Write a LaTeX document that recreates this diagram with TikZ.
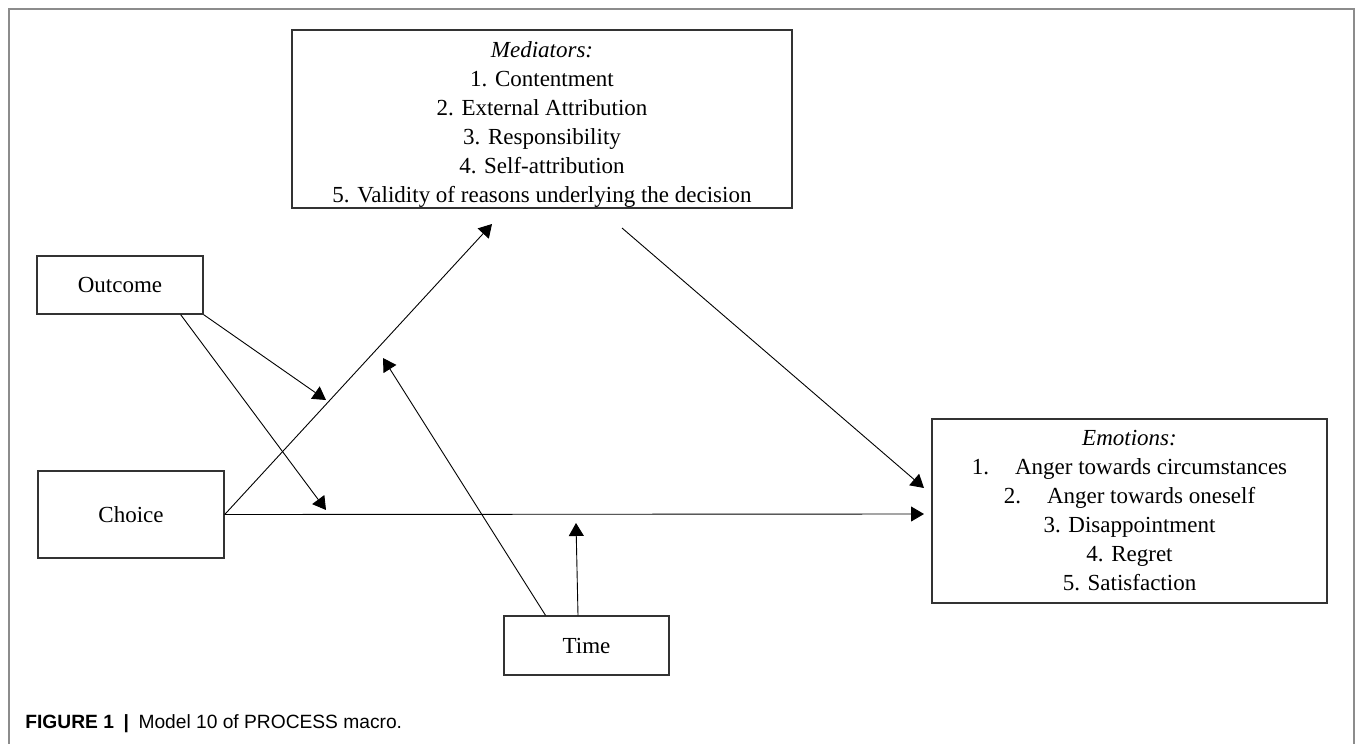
\documentclass[tikz,border=0pt]{standalone}
\usepackage{fontspec}
\setmainfont{Liberation Serif}
\newfontfamily\capfont{Liberation Sans}
\usetikzlibrary{arrows.meta}

\tikzset{
  box/.style={draw=black!80, line width=0.7pt, align=center, inner sep=0pt,
    font=\fontsize{11.5}{14.5}\selectfont},
  link/.style={->, line width=0.45pt}
}

\begin{document}
\begin{tikzpicture}[x=0.5pt,y=-0.5pt,>={Triangle[length=6.5pt,width=7.5pt]}]
                \useasboundingbox (0,0) rectangle (1355,744);
                \draw[black!45, line width=0.6pt] (9,744) -- (9,9) -- (1354,9) -- (1354,744);

                \node[box, minimum width=250pt, minimum height=89pt] (med) at (542,119)
                  {\rule{0pt}{13.5pt}\textit{Mediators:}\\1. Contentment\\2. External Attribution\\3. Responsibility\\4. Self-attribution\\5. Validity of reasons underlying the decision};
                \node[box, minimum width=83pt, minimum height=29pt] (outcome) at (120,285) {Outcome};
                \node[box, minimum width=93pt, minimum height=43.5pt] (choice) at (131,514.5) {Choice};
                \node[box, minimum width=82.5pt, minimum height=29.5pt] (time) at (586.5,645.5) {Time};
                \node[box, minimum width=197.5pt, minimum height=92pt] (emo) at (1129.5,511)
                  {\textit{Emotions:}\\1.\hspace{13pt}Anger towards circumstances\\2.\hspace{13pt}Anger towards oneself\\3. Disappointment\\4. Regret\\5. Satisfaction};

                % arrow tips
                \coordinate (medtip) at (492,224);
                \coordinate (emotip) at (924,514);
                \coordinate (emotip2) at (924,488);
                \coordinate (medfoot) at (622,228);
                \coordinate (modA) at (326,400);
                \coordinate (modB) at (326,510);
                \coordinate (modC) at (383,358);
                \coordinate (modD) at (576,523);

                \draw[link] (choice.east) -- (medtip);
                \draw[link] (choice.east) -- (emotip);
                \draw[link] (medfoot) -- (emotip2);

                \draw[link] (outcome.south east) -- (modA);
                \draw[link] ([xshift=-11.5pt]outcome.south east) -- (modB);

                \draw[link] ([xshift=-20.5pt]time.north) -- (modC);
                \draw[link] ([xshift=-4.25pt]time.north) -- (modD);

                \node[anchor=base west, font=\capfont\fontsize{9.6}{11}\selectfont, inner sep=0pt] (cap) at (25,728)
                  {\textbf{FIGURE 1}\enspace\textbf{|}\enspace Model 10 of PROCESS macro.};
            \end{tikzpicture}
\end{document}
